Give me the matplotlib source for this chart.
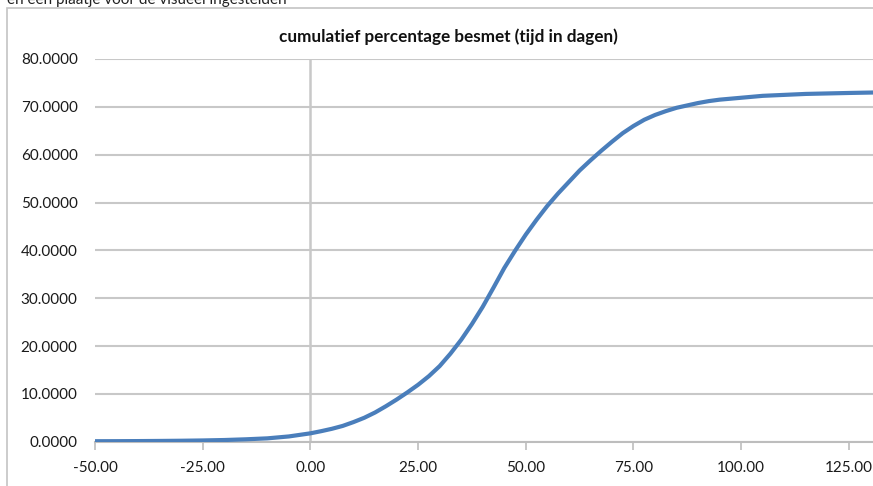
import numpy as np
import matplotlib
matplotlib.use("Agg")
import matplotlib.pyplot as plt
from matplotlib.patches import Rectangle

plt.rcParams['font.family'] = ['Lato', 'DejaVu Sans']

# days vs cumulative percentage infected
days = [-50, -45, -40, -35, -30, -25, -20, -15, -10, -5,
        0, 2.5, 5, 7.5, 10, 12.5, 15, 17.5, 20, 22.5, 25, 27.5, 30, 32.5, 35, 37.5,
        40, 42.5, 45, 47.5, 50, 52.5, 55, 57.5, 60, 62.5, 65, 67.5, 70, 72.5, 75,
        77.5, 80, 82.5, 85, 87.5, 90, 92.5, 95, 97.5, 100,
        105, 110, 115, 120, 125, 131]
pct = [0.10, 0.11, 0.13, 0.16, 0.20, 0.26, 0.35, 0.50, 0.70, 1.10,
       1.75, 2.20, 2.70, 3.30, 4.10, 5.00, 6.10, 7.40, 8.80, 10.3, 11.9, 13.7, 15.8, 18.4, 21.3, 24.6,
       28.2, 32.2, 36.3, 39.9, 43.3, 46.4, 49.3, 51.9, 54.3, 56.7, 58.8, 60.8, 62.7, 64.5, 66.0,
       67.3, 68.3, 69.1, 69.8, 70.3, 70.8, 71.2, 71.5, 71.7, 71.9,
       72.3, 72.5, 72.7, 72.8, 72.9, 73.0]

title = "cumulatief percentage besmet (tijd in dagen)"
caption = "en een plaatje voor de visueel ingestelden"
x_ticks = [-50, -25, 0, 25, 50, 75, 100, 125]
y_ticks = [0, 10, 20, 30, 40, 50, 60, 70, 80]

W, H = 873, 486
fig = plt.figure(figsize=(W / 100, H / 100), dpi=100)

# chart area border, cut off at the right and bottom
fig.patches.append(Rectangle((7 / W, -0.1), 1.2, 1.1 - 8 / H, transform=fig.transFigure,
                             fill=False, edgecolor='#c4c4c4', linewidth=1.2))
# caption above the chart, only its lower half is in the screenshot
fig.text(7 / W, 1 - 4 / H, caption, fontsize=11, color='#222222', va='baseline', ha='left')

ax = fig.add_axes([95 / W, 1 - 441.7 / H, 1 - 95 / W + 0.002, (441.7 - 59) / H])
ax.set_xlim(-50, 131)
ax.set_ylim(0, 80)

grid_col = '#c8c8c8'
ax.set_yticks(y_ticks)
ax.set_xticks(x_ticks)
ax.yaxis.grid(True, color=grid_col, linewidth=1.5)
ax.set_axisbelow(True)
for s in ['top', 'right', 'left']:
    ax.spines[s].set_visible(False)
ax.spines['bottom'].set_color('#bdbdbd')
ax.spines['bottom'].set_linewidth(1.5)
ax.axvline(0, color=grid_col, linewidth=1.8, zorder=1)

ax.set_yticklabels([f"{v:.4f}" for v in y_ticks])
ax.set_xticklabels([f"{v:.2f}" for v in x_ticks])
ax.tick_params(axis='y', length=0, pad=12.5, labelsize=11, labelcolor='#1a1a1a')
ax.tick_params(axis='x', length=6, width=1.2, color='#bdbdbd', direction='out',
               pad=8, labelsize=11, labelcolor='#1a1a1a')

ax.plot(days, pct, color='#4a7ebb', linewidth=3, solid_capstyle='butt',
        solid_joinstyle='round', zorder=3)

fig.text(448 / W, 1 - 37 / H, title, fontsize=12.3, fontweight='bold', color='#111111',
         ha='center', va='center')

fig.savefig("out.png", dpi=100)
